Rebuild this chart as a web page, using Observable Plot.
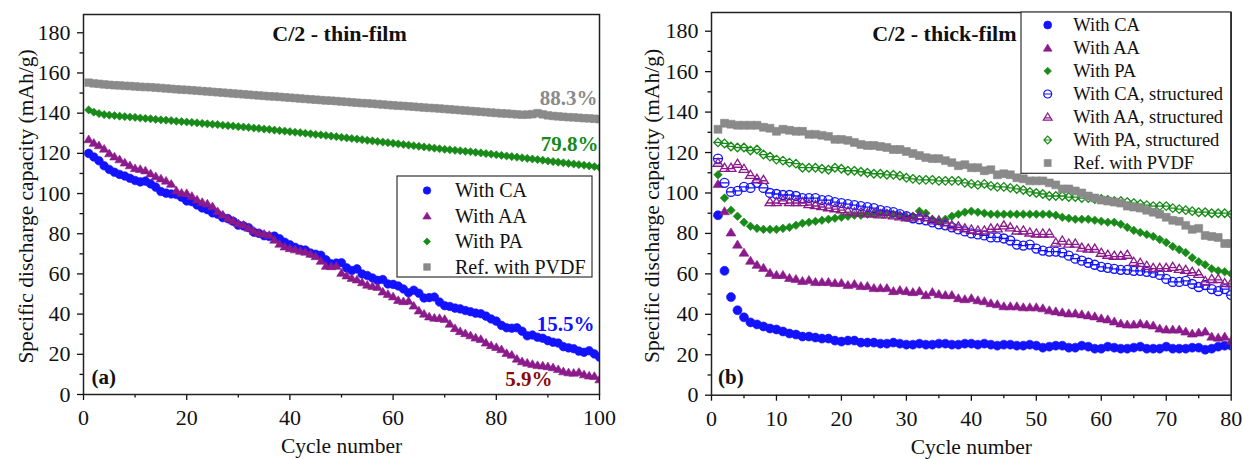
<!DOCTYPE html>
<html>
<head>
<meta charset="utf-8">
<script src="https://cdn.jsdelivr.net/npm/d3@7"></script>
<script src="https://cdn.jsdelivr.net/npm/@observablehq/plot@0.6"></script>
<style>
  html, body { margin: 0; padding: 0; background: #fff; }
  #wrap { display: flex; width: 1244px; height: 459px; overflow: hidden; }
  #wrap svg { flex: none; max-width: none; }
</style>
</head>
<body>
<div id="wrap"></div>
<script>
// ---- Thin-film electrodes, C/2, discharge capacity (mAh/g) per cycle (1..100)
const thinCA = [
  120.0, 118.2, 116.3, 113.8, 112.0, 110.6, 109.5, 108.7, 107.6, 106.5,
  105.8, 106.2, 104.8, 103.2, 101.0, 100.2, 99.8, 99.5, 98.2, 96.3,
  96.0, 94.3, 92.8, 92.0, 90.4, 89.7, 88.0, 87.5, 86.2, 84.3,
  83.9, 83.0, 80.8, 80.2, 79.0, 78.6, 78.8, 77.5, 75.8, 74.5,
  73.2, 72.2, 71.9, 70.4, 69.8, 69.3, 67.0, 65.0, 65.4, 65.6,
  63.0, 61.7, 62.5, 60.0, 59.2, 58.0, 56.8, 57.2, 55.0, 54.8,
  54.0, 52.5, 50.6, 51.9, 50.4, 48.0, 48.2, 48.5, 46.0, 44.2,
  43.8, 43.0, 42.6, 41.8, 41.2, 40.5, 40.2, 39.0, 37.6, 36.5,
  34.4, 33.2, 33.0, 33.2, 31.5, 29.2, 29.6, 28.5, 28.0, 26.8,
  26.0, 25.6, 23.8, 23.2, 22.8, 21.6, 21.0, 21.8, 20.2, 18.6
];
const thinAA = [
  127.0, 125.2, 124.0, 122.3, 120.0, 118.4, 117.0, 115.4, 114.0, 112.6,
  112.2, 111.5, 110.0, 108.6, 107.5, 106.4, 104.8, 101.5, 100.4, 100.2,
  98.8, 97.0, 95.8, 95.0, 93.6, 91.2, 89.5, 87.8, 86.5, 85.2,
  84.4, 83.0, 81.5, 80.4, 80.0, 79.4, 77.0, 75.0, 73.6, 72.8,
  72.2, 71.5, 71.0, 70.0, 68.8, 66.5, 64.0, 63.8, 64.0, 60.5,
  59.2, 58.0, 57.2, 55.8, 54.6, 54.0, 53.5, 51.2, 50.0, 48.8,
  47.0, 46.4, 46.6, 44.2, 41.8, 40.2, 38.8, 38.2, 38.0, 37.6,
  35.2, 33.0, 31.5, 30.5, 29.4, 28.3, 27.6, 25.8, 24.5, 23.6,
  22.5, 20.6, 19.8, 17.8, 16.5, 15.8, 15.2, 14.6, 14.4, 14.0,
  13.5, 12.6, 11.5, 11.0, 10.8, 11.2, 10.0, 9.4, 9.2, 7.5
];
const thinPA = [
  141.6, 140.5, 139.8, 139.3, 139.0, 138.8, 138.5, 138.3, 138.1, 137.9,
  137.6, 137.4, 137.2, 136.9, 136.7, 136.5, 136.3, 136.0, 135.8, 135.6,
  135.4, 135.2, 134.9, 134.7, 134.5, 134.3, 134.0, 133.8, 133.6, 133.3,
  133.1, 132.9, 132.6, 132.4, 132.1, 131.9, 131.6, 131.3, 131.1, 130.8,
  130.5, 130.3, 130.0, 129.7, 129.4, 129.2, 128.9, 128.6, 128.3, 128.0,
  127.7, 127.4, 127.1, 126.8, 126.5, 126.2, 125.9, 125.6, 125.3, 125.0,
  124.7, 124.4, 124.1, 123.8, 123.5, 123.2, 122.9, 122.6, 122.3, 122.0,
  121.8, 121.5, 121.3, 121.0, 120.8, 120.5, 120.2, 119.9, 119.6, 119.3,
  119.0, 118.7, 118.4, 118.1, 117.8, 117.5, 117.2, 116.9, 116.6, 116.2,
  115.9, 115.6, 115.3, 115.0, 114.7, 114.4, 114.1, 113.8, 113.4, 113.0
];
const thinPVDF = [
  155.2, 154.8, 154.6, 154.3, 154.1, 153.9, 153.8, 153.6, 153.5, 153.3,
  153.1, 153.0, 152.9, 152.7, 152.5, 152.3, 152.1, 151.9, 151.7, 151.6,
  151.4, 151.2, 151.0, 150.8, 150.6, 150.4, 150.2, 150.0, 149.8, 149.6,
  149.4, 149.2, 149.0, 148.8, 148.6, 148.4, 148.3, 148.1, 147.9, 147.7,
  147.5, 147.3, 147.1, 146.9, 146.7, 146.5, 146.3, 146.2, 146.0, 145.8,
  145.6, 145.4, 145.2, 145.0, 144.9, 144.7, 144.5, 144.3, 144.1, 143.9,
  143.7, 143.6, 143.4, 143.2, 143.0, 142.8, 142.6, 142.5, 142.3, 142.1,
  141.9, 141.7, 141.5, 141.3, 141.1, 140.9, 140.7, 140.5, 140.3, 140.1,
  139.9, 139.8, 139.6, 139.4, 139.2, 139.3, 139.5, 140.0, 139.4, 138.9,
  138.6, 138.4, 138.2, 138.0, 137.9, 137.7, 137.5, 137.4, 137.2, 137.0
];

// ---- Thick-film electrodes, C/2, discharge capacity (mAh/g) per cycle (1..80)
const thickCA = [
  89, 61.5, 48.5, 42, 38.5, 36, 35, 34, 33, 32.5,
  31.5, 30.5, 30, 29, 29, 28.5, 28, 28, 27, 26.5,
  27, 27, 26, 26, 26, 25.5, 25.5, 26, 25.5, 25,
  25, 25.5, 25, 25, 25.5, 25.5, 25, 25, 25.5, 25.5,
  25, 25.5, 25, 24.5, 25, 25, 24.5, 24.5, 25, 24.5,
  23.5, 24, 24.5, 24.5, 23.5, 23.5, 24.5, 24, 23, 23,
  24, 23.5, 23, 23, 23.5, 24, 23, 23, 23, 24,
  23, 23, 23, 23.5, 23.5, 22.5, 23, 24, 24.5, 24.5
];
const thickAA = [
  104.5, 91, 80.5, 74.5, 70.5, 66.5, 64.5, 63, 60.5, 59.5,
  59.5, 58, 57.5, 56.5, 57, 56, 56, 56, 55.5, 55.5,
  54.5, 55, 54, 54, 53, 53, 53, 51.5, 52, 51.5,
  51, 51.5, 49.5, 51, 50, 49.5, 49.5, 48, 47.5, 48,
  47, 46.5, 45.5, 45, 44, 44, 44, 43.5, 43.5, 43.5,
  43, 42, 41.5, 41, 40.5, 40.5, 40, 39.5, 39, 38,
  37.5, 36.5, 35.5, 35, 35, 35.5, 35, 34.5, 33, 32.5,
  32.5, 32.5, 31.5, 30.5, 31, 31.5, 29, 28.5, 29, 27
];
const thickPA = [
  109, 97.5, 91.5, 88.5, 85.5, 83.5, 82.5, 82, 82, 82,
  82.5, 83, 84, 85, 85.5, 86, 86.5, 87, 87.5, 88,
  88.5, 89, 89, 89.5, 89.5, 90, 90, 89.5, 89, 88,
  88.5, 91, 90, 87, 86, 87, 88.5, 89.5, 90.5, 91,
  90.5, 90, 89.5, 89.5, 89.5, 89.5, 89.5, 89.5, 89.5, 89.5,
  89.5, 89.5, 89, 88, 87.5, 87, 87, 87, 86.5, 86,
  85.5, 85.5, 84.5, 83, 81.5, 80.5, 79.5, 78.5, 77, 75.5,
  73.5, 72, 70.5, 68, 66, 64.5, 62.5, 61.5, 61, 60
];
const thickCAStruct = [
  117, 105, 100.5, 101, 103, 102.5, 105, 102.5, 100, 99.5,
  99, 99, 98.5, 97.5, 97.5, 97.5, 96.5, 96.5, 95.5, 95,
  94.5, 94, 93.5, 93, 92.5, 91.5, 91, 90.5, 89.5, 88.5,
  87.5, 87, 86.5, 85.5, 84.5, 84, 83, 82, 81, 80,
  79.5, 79, 78, 78, 77.5, 76.5, 74.5, 74, 74.5, 72.5,
  71.5, 71, 71, 70.5, 69, 67.5, 66.5, 65.5, 64.5, 63.5,
  63, 62.5, 62, 62, 61.5, 61.5, 61, 60.5, 59.5, 57.5,
  56, 56, 56.5, 55, 53.5, 54.5, 52.5, 51.5, 52.5, 49.5
];
const thickAAStruct = [
  115, 112.5, 112.5, 114.5, 112, 109, 107, 106.5, 95.5, 95.5,
  96.5, 95.5, 95.5, 95.5, 94.5, 94, 93.5, 93, 92.5, 92,
  91, 90.5, 90.5, 90, 90, 89.5, 89.5, 89, 88.5, 88,
  88, 89, 88, 86.5, 86.5, 85.5, 84, 83.5, 82.5, 82,
  81.5, 81.5, 82.5, 82.5, 84, 83, 81.5, 81.5, 80.5, 80,
  80, 80, 75.5, 76.5, 75, 75, 73, 72.5, 72.5, 70.5,
  69.5, 69, 69, 69.5, 66, 65.5, 64, 63, 63, 63,
  63.5, 62.5, 62, 61, 60, 56.5, 57.5, 57.5, 55.5, 55.5
];
const thickPAStruct = [
  125, 124.5, 123, 122.5, 122.5, 121, 121.5, 119, 118, 116.5,
  116, 115, 114.5, 112.5, 112.5, 112.5, 112, 111.5, 112.5, 112,
  111, 111, 110.5, 110, 109.5, 109.5, 109, 109, 108.5, 107.5,
  107, 106.5, 106.5, 106.5, 106, 106, 106, 106, 105, 104.5,
  104, 104.5, 103.5, 103, 103, 102.5, 102, 101.5, 100.5, 100,
  99.5, 98.5, 98.5, 98.5, 98, 98, 97.5, 97.5, 97, 97,
  96.5, 96, 96, 95.5, 95, 94.5, 94, 93.5, 93.5, 93.5,
  92.5, 92, 91.5, 91, 90.5, 90.5, 90, 90, 90, 89.5
];
const thickPVDF = [
  131.5, 134.5, 134, 133.5, 133.5, 133.5, 133.5, 132.5, 132, 130.5,
  131.5, 131, 130.5, 130.5, 129, 129, 128.5, 128, 126.5, 126.5,
  126, 125, 124, 123.5, 123.5, 123, 122.5, 121.5, 121.5, 120.5,
  119.5, 118.5, 117.5, 117, 117, 116, 115, 113.5, 114, 112.5,
  112.5, 111, 111.5, 109, 109.5, 109, 107.5, 107, 106, 106,
  106, 105, 104, 102, 102, 101, 100, 98.5, 97.5, 96.5,
  96, 95.5, 95, 93.5, 93, 92.5, 91.5, 90.5, 89.5, 88,
  86.5, 86, 84, 82, 82.5, 79, 78.5, 78, 75, 75
];

// ---- Axis ticks
const yMajorTicks = [0, 20, 40, 60, 80, 100, 120, 140, 160, 180];
const yMinorTicks = [10, 30, 50, 70, 90, 110, 130, 150, 170];
const thinXMajor = [0, 20, 40, 60, 80, 100];
const thinXMinor = [10, 30, 50, 70, 90];
const thickXMajor = [0, 10, 20, 30, 40, 50, 60, 70, 80];
const thickXMinor = [5, 15, 25, 35, 45, 55, 65, 75];

const BLUE = "#1212ff", PURPLE = "#8b1a8b", GREEN = "#178a17", GRAY = "#8a8a8a", DARKRED = "#8b0a0a";
const SERIF = "'Liberation Serif', 'Times New Roman', Times, serif";

// Marker shapes (d3 symbol-type objects); size is the usual pi*r^2 area
function shape(kind, centerLine) {
  return {
    draw(ctx, size) {
      const r = Math.sqrt(size / Math.PI);
      if (kind === "circle") {
        ctx.moveTo(r, 0);
        ctx.arc(0, 0, r, 0, 2 * Math.PI);
        if (centerLine) { ctx.moveTo(-r, 0); ctx.lineTo(r, 0); }
      } else if (kind === "square") {
        const h = r * 0.88;
        ctx.rect(-h, -h, 2 * h, 2 * h);
      } else if (kind === "triangle") {
        const top = -1.0 * r, base = 0.8 * r, w = 1.1 * r;
        ctx.moveTo(0, top); ctx.lineTo(w, base); ctx.lineTo(-w, base); ctx.closePath();
        if (centerLine) {
          const yc = (top + 2 * base) / 3;
          const hw = w * (yc - top) / (base - top);
          ctx.moveTo(-hw, yc); ctx.lineTo(hw, yc);
        }
      } else if (kind === "diamond") {
        const h = r * 0.95;
        ctx.moveTo(0, -h); ctx.lineTo(h, 0); ctx.lineTo(0, h); ctx.lineTo(-h, 0); ctx.closePath();
        if (centerLine) { ctx.moveTo(-h, 0); ctx.lineTo(h, 0); }
      }
    }
  };
}

const rows = (values, name) => values.map((v, i) => ({cycle: i + 1, cap: v, name}));

const thinSeries = [
  {name: "With CA", values: thinCA, sym: shape("circle"), color: BLUE, filled: true},
  {name: "With AA", values: thinAA, sym: shape("triangle"), color: PURPLE, filled: true},
  {name: "With PA", values: thinPA, sym: shape("diamond"), color: GREEN, filled: true},
  {name: "Ref. with PVDF", values: thinPVDF, sym: shape("square"), color: GRAY, filled: true}
];
const thickSeries = [
  {name: "With CA", values: thickCA, sym: shape("circle"), color: BLUE, filled: true},
  {name: "With AA", values: thickAA, sym: shape("triangle"), color: PURPLE, filled: true},
  {name: "With PA", values: thickPA, sym: shape("diamond"), color: GREEN, filled: true},
  {name: "With CA, structured", values: thickCAStruct, sym: shape("circle", true), color: BLUE, filled: false},
  {name: "With AA, structured", values: thickAAStruct, sym: shape("triangle", true), color: PURPLE, filled: false},
  {name: "With PA, structured", values: thickPAStruct, sym: shape("diamond", true), color: GREEN, filled: false},
  {name: "Ref. with PVDF", values: thickPVDF, sym: shape("square"), color: GRAY, filled: true}
];

// Capacity retention labels, computed from first and last cycle
function retention(values) {
  return (values[values.length - 1] / values[0] * 100).toFixed(1) + "%";
}
function lastPoint(values) {
  return [{cycle: values.length, cap: values[values.length - 1], label: retention(values)}];
}

function panel(cfg) {
  const marks = [
    Plot.axisY({ticks: yMajorTicks, tickSize: 6, tickPadding: 7, tickFormat: d => String(d), label: null, strokeWidth: 1.3, fontSize: 22}),
    Plot.axisY({ticks: yMinorTicks, tickSize: 3.5, tickFormat: () => "", label: null, strokeWidth: 1.3}),
    Plot.axisX({ticks: cfg.xMajor, tickSize: 6, tickPadding: 9, tickFormat: d => String(d), label: null, strokeWidth: 1.3, fontSize: 22}),
    Plot.axisX({ticks: cfg.xMinor, tickSize: 3.5, tickFormat: () => "", label: null, strokeWidth: 1.3}),
    // axis titles
    Plot.text(["Cycle number"], {frameAnchor: "bottom", dy: cfg.xTitleDy, lineAnchor: "middle", fontSize: 21.5, fill: "#111"}),
    Plot.text(["Specific discharge capacity (mAh/g)"], {frameAnchor: "left", rotate: -90, dx: cfg.yTitleDx, dy: 2, lineAnchor: "middle", textAnchor: "middle", fontSize: 21.5, fill: "#111"}),
    // panel title and tag
    Plot.text([cfg.title], {frameAnchor: "top", dx: cfg.titleDx, dy: cfg.titleDy, lineAnchor: "middle", fontSize: 22, fontWeight: "bold", fill: "#111"}),
    Plot.text([cfg.tag], {frameAnchor: "bottom-left", dx: cfg.tagDx, dy: cfg.tagDy, textAnchor: "start", lineAnchor: "middle", fontSize: 21, fontWeight: "bold", fill: "#111"})
  ];
  for (const s of cfg.series) {
    marks.push(Plot.dot(rows(s.values, s.name), {
      x: "cycle", y: "cap", symbol: s.sym, r: cfg.r,
      fill: s.filled ? s.color : "none",
      stroke: s.color, strokeWidth: s.filled ? 0.6 : 1.3,
      clip: "frame"
    }));
  }
  for (const n of cfg.notes || []) {
    marks.push(Plot.text(lastPoint(n.values), {
      x: "cycle", y: "cap", text: "label", textAnchor: "end", lineAnchor: "middle",
      dx: n.dx, dy: n.dy, fill: n.color, fontSize: 21, fontWeight: "bold"
    }));
  }
  marks.push(Plot.frame({stroke: "#222", strokeWidth: 1.5}));

  const svg = Plot.plot({
    width: cfg.width, height: 459,
    marginLeft: cfg.ml, marginRight: cfg.mr, marginTop: cfg.mt, marginBottom: cfg.mb,
    x: {domain: [0, cfg.xMax]},
    y: {domain: [0, cfg.yMax]},
    style: {fontFamily: SERIF, fontSize: "21px", color: "#111", background: "#fff", overflow: "visible"},
    marks
  });

  // legend box inside the frame
  const L = cfg.legend;
  const g = d3.select(svg).append("g")
    .attr("font-family", SERIF).attr("font-size", L.fontSize).attr("text-anchor", "start");
  g.append("rect").attr("x", L.x).attr("y", L.y).attr("width", L.w).attr("height", L.h)
    .attr("fill", "#fff").attr("stroke", "#333").attr("stroke-width", 1.2);
  cfg.series.forEach((s, i) => {
    const cy = L.firstRow + i * L.step;
    g.append("path")
      .attr("transform", `translate(${L.symX},${cy})`)
      .attr("d", d3.symbol(s.sym, Math.PI * L.r * L.r)())
      .attr("fill", s.filled ? s.color : "none")
      .attr("stroke", s.color).attr("stroke-width", s.filled ? 0.6 : 1.2);
    g.append("text").attr("x", L.textX).attr("y", cy).attr("dy", "0.34em")
      .attr("text-anchor", "start").attr("fill", "#111").text(s.name);
  });
  return svg;
}

const wrap = document.getElementById("wrap");

wrap.appendChild(panel({
  width: 620, ml: 83, mr: 21, mt: 14, mb: 65,
  xMax: 100, yMax: 189.1, xMajor: thinXMajor, xMinor: thinXMinor,
  r: 4.3, series: thinSeries,
  title: "C/2 - thin-film", titleDx: -2, titleDy: 19.5,
  tag: "(a)", tagDx: 8, tagDy: -17.5,
  xTitleDy: 52, yTitleDx: -57,
  notes: [
    {values: thinPVDF, color: GRAY, dx: -2, dy: -20.5},
    {values: thinPA, color: GREEN, dx: -1, dy: -23.5},
    {values: thinCA, color: BLUE, dx: -5, dy: -33.3},
    {values: thinAA, color: DARKRED, dx: -47, dy: -0.6}
  ],
  legend: {x: 397, y: 176, w: 195, h: 101, firstRow: 190.5, step: 25.5, symX: 427, textX: 455, r: 3.8, fontSize: 20}
}));

wrap.appendChild(panel({
  width: 624, ml: 91, mr: 13.3, mt: 12, mb: 64.3,
  xMax: 80, yMax: 189.25, xMajor: thickXMajor, xMinor: thickXMinor,
  r: 4.5, series: thickSeries,
  title: "C/2 - thick-film", titleDx: -27, titleDy: 21.3,
  tag: "(b)", tagDx: 6.5, tagDy: -18,
  xTitleDy: 51.5, yTitleDx: -59,
  notes: [],
  legend: {x: 401, y: 12, w: 209.7, h: 161.3, firstRow: 25, step: 23, symX: 427.7, textX: 453.3, r: 4, fontSize: 18.5}
}));
</script>
</body>
</html>
